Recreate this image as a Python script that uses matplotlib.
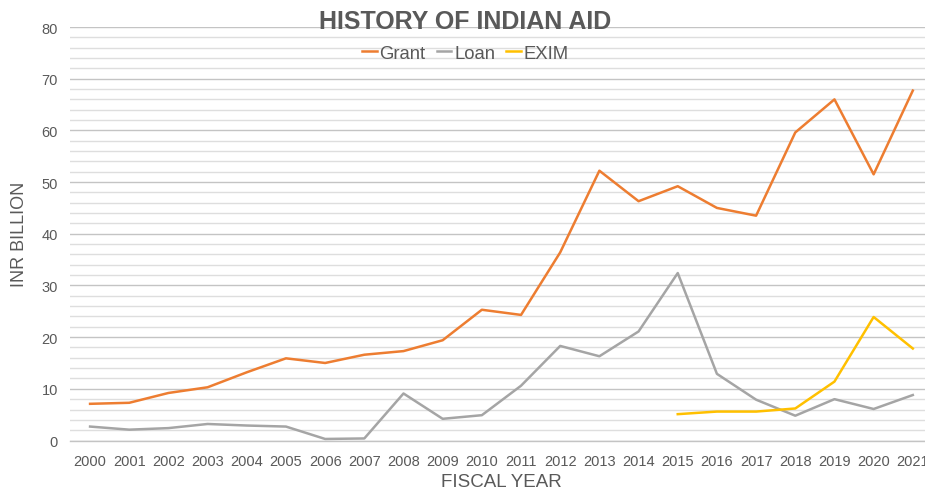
import matplotlib
matplotlib.use("Agg")
import matplotlib.pyplot as plt
import numpy as np

plt.rcParams['font.family'] = ['Liberation Sans', 'DejaVu Sans']

years = [str(y) for y in range(2000, 2022)]
grant = [7.1, 7.3, 9.2, 10.3, 13.2, 15.9, 15.0, 16.6, 17.3, 19.4, 25.3, 24.3,
         36.4, 52.2, 46.3, 49.2, 45.0, 43.5, 59.6, 66.0, 51.5, 67.7]
loan = [2.7, 2.1, 2.4, 3.2, 2.9, 2.7, 0.3, 0.4, 9.1, 4.2, 4.9, 10.6,
        18.3, 16.3, 21.1, 32.4, 12.9, 7.9, 4.8, 8.0, 6.1, 8.8]
exim_years = ["2015", "2016", "2017", "2018", "2019", "2020", "2021"]
exim = [5.1, 5.6, 5.6, 6.2, 11.4, 23.9, 17.8]

text_color = "#595959"

fig = plt.figure(figsize=(9.25, 4.89), dpi=100)
ax = fig.add_axes([0.0762, 0.0971, 1.0080 - 0.0762, 0.9427 - 0.0971])

x = np.arange(len(years))
exim_x = [years.index(y) for y in exim_years]

ax.plot(x, grant, color="#ED7D31", lw=1.8, label="Grant", zorder=3)
ax.plot(x, loan, color="#A5A5A5", lw=1.8, label="Loan", zorder=3)
ax.plot(exim_x, exim, color="#FFC000", lw=1.8, label="EXIM", zorder=3)

ax.set_xlim(-0.5, len(years) - 0.5)
ax.set_ylim(0, 80)
ax.set_xticks(x)
ax.set_xticklabels(years)
ax.set_yticks(np.arange(0, 81, 10))
ax.set_yticks(np.arange(0, 81, 2), minor=True)

ax.grid(True, which="major", axis="y", color="#c4c4c4", lw=1.0, zorder=0)
ax.grid(True, which="minor", axis="y", color="#dedede", lw=1.0, zorder=0)
ax.set_axisbelow(True)

for s in ["top", "right", "left"]:
    ax.spines[s].set_visible(False)
ax.spines["bottom"].set_color("#c4c4c4")
ax.spines["bottom"].set_linewidth(1.0)

ax.tick_params(axis="both", which="both", length=0, labelsize=10.5,
               labelcolor=text_color)
ax.tick_params(axis="x", pad=10)
ax.tick_params(axis="y", pad=9)

ax.set_ylabel("INR BILLION", fontsize=13, color=text_color, labelpad=10)
ax.set_xlabel("FISCAL YEAR", fontsize=13.5, color=text_color, labelpad=3)

fig.text(0.503, 0.955, "HISTORY OF INDIAN AID", ha="center", va="center",
         fontsize=18, fontweight="bold", color=text_color)

leg = ax.legend(loc="center", bbox_to_anchor=(0.503, 0.889),
                bbox_transform=fig.transFigure, ncol=3, frameon=False,
                fontsize=13.3, handlelength=0.8, handletextpad=0.15,
                columnspacing=0.6, labelcolor=text_color)

fig.savefig("out.png", dpi=100)
